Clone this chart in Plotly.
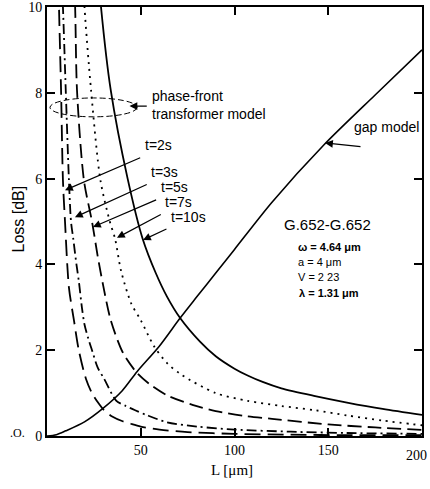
import plotly.graph_objects as go

# Splice loss versus gap length L for G.652-G.652 fibres
# Phase-front transformer model, one curve per taper time t
t2_L = [6.0, 6.4, 7.5, 8.5, 9.6, 11.7, 14.4, 17.0, 20.8, 24.0, 27.7, 30.4, 35.0, 40.0, 45.0, 50.0, 60.0, 75.0, 100.0, 130.0, 160.0, 200.0]
t2_loss = [11.0, 10.0, 8.06, 5.96, 5.0, 3.46, 2.69, 1.99, 1.33, 1.0, 0.75, 0.6, 0.45, 0.35, 0.28, 0.22, 0.15, 0.09, 0.05, 0.03, 0.02, 0.02]

t3_L = [7.5, 8.5, 10.0, 11.7, 12.8, 14.0, 15.7, 17.0, 18.6, 20.0, 22.5, 24.0, 27.0, 30.5, 37.0, 42.0, 47.0, 53.0, 64.0, 80.0, 100.0, 130.0, 160.0, 200.0]
t3_loss = [11.0, 10.0, 8.06, 5.96, 5.0, 4.6, 4.0, 3.6, 3.0, 2.6, 2.2, 2.0, 1.6, 1.33, 0.82, 0.7, 0.6, 0.49, 0.32, 0.22, 0.15, 0.1, 0.07, 0.05]

t5_L = [14.0, 15.0, 16.0, 19.7, 24.0, 27.0, 30.0, 34.0, 40.5, 48.0, 55.0, 64.0, 78.0, 90.0, 105.0, 120.0, 150.0, 175.0, 200.0]
t5_loss = [11.0, 10.0, 8.06, 5.96, 5.0, 4.2, 3.5, 2.7, 1.94, 1.47, 1.2, 0.95, 0.72, 0.58, 0.47, 0.4, 0.27, 0.2, 0.14]

t7_L = [19.0, 20.0, 23.5, 28.5, 33.5, 36.3, 39.5, 45.0, 50.0, 57.0, 64.0, 72.0, 90.0, 107.0, 125.0, 143.0, 160.0, 179.0, 200.0]
t7_loss = [11.0, 10.0, 8.06, 5.96, 5.0, 4.6, 3.85, 3.08, 2.7, 2.1, 1.7, 1.42, 1.0, 0.82, 0.7, 0.6, 0.48, 0.36, 0.25]

t10_L = [27.0, 28.8, 34.0, 43.0, 51.0, 58.0, 64.0, 71.0, 81.6, 90.0, 100.0, 107.0, 115.0, 125.0, 143.0, 160.0, 179.0, 200.0]
t10_loss = [11.0, 10.0, 8.06, 6.0, 4.6, 3.8, 3.25, 2.75, 2.2, 1.86, 1.57, 1.41, 1.26, 1.11, 0.93, 0.78, 0.63, 0.49]

# Gap model
gap_L = [0.0, 5.0, 10.0, 20.0, 30.0, 40.0, 48.0, 60.0, 71.0, 80.0, 90.0, 100.0, 120.0, 148.0, 175.0, 200.0]
gap_loss = [0.0, 0.03, 0.12, 0.33, 0.65, 1.05, 1.5, 2.1, 2.75, 3.25, 3.8, 4.35, 5.45, 6.8, 7.95, 9.0]

x_ticks = [50, 100, 150, 200]
x_tick_text = ["50", "100", "150", ""]   # the last label is drawn separately so it stays inside the page
x_end_label = "200"
y_ticks = [0, 2, 4, 6, 8, 10]

# curve label, arrow tail (x, y), arrow tip (x, y)
t_labels = ["t=2s", "t=3s", "t=5s", "t=7s", "t=10s"]
t_tails = [(50.5, 6.5), (54.0, 5.88), (59.0, 5.52), (61.5, 5.18), (64.5, 4.84)]
t_tips = [(9.6, 5.73), (14.9, 5.1), (24.5, 4.87), (37.3, 4.62), (51.2, 4.57)]

curves = [
    (t2_L, t2_loss, "16px,7px"),
    (t3_L, t3_loss, "10px,4px,2px,4px"),
    (t5_L, t5_loss, "14px,6px"),
    (t7_L, t7_loss, "2px,5px"),
    (t10_L, t10_loss, "solid"),
]

fig = go.Figure()
for (xs, ys, dash), name in zip(curves, t_labels):
    fig.add_trace(go.Scatter(
        x=xs, y=ys, mode="lines", name=name,
        line=dict(color="black", width=1.8, dash=dash, shape="spline", smoothing=0.8),
    ))

fig.add_trace(go.Scatter(
    x=gap_L, y=gap_loss, mode="lines", name="gap model",
    line=dict(color="black", width=1.6, shape="spline", smoothing=0.8),
))

sans = "Liberation Sans, Arial, sans-serif"
serif = "Liberation Serif, Times New Roman, serif"

ann = []
for lab, (tx, ty), (hx, hy) in zip(t_labels, t_tails, t_tips):
    ann.append(dict(x=tx + 0.6, y=ty + 0.04, xref="x", yref="y", text=lab, showarrow=False,
                    xanchor="left", yanchor="bottom", font=dict(family=sans, size=14, color="black")))
    ann.append(dict(x=hx, y=hy, ax=tx, ay=ty, xref="x", yref="y", axref="x", ayref="y",
                    text="", showarrow=True, arrowhead=2, arrowsize=1.3, arrowwidth=1.2,
                    arrowcolor="black"))

# phase-front transformer label with its arrow
ann.append(dict(x=55.0, y=7.72, xref="x", yref="y", text="phase-front<br>transformer model",
                showarrow=False, xanchor="left", yanchor="middle", align="left",
                font=dict(family=sans, size=14, color="black")))
ann.append(dict(x=44.0, y=7.69, ax=54.0, ay=7.69, xref="x", yref="y", axref="x", ayref="y",
                text="", showarrow=True, arrowhead=2, arrowsize=1.3, arrowwidth=1.2,
                arrowcolor="black"))

# gap model label with its arrow
ann.append(dict(x=162.5, y=7.2, xref="x", yref="y", text="gap model", showarrow=False,
                xanchor="left", yanchor="middle", font=dict(family=sans, size=14, color="black")))
ann.append(dict(x=148.3, y=6.83, ax=168.0, ay=6.74, xref="x", yref="y", axref="x", ayref="y",
                text="", showarrow=True, arrowhead=2, arrowsize=1.3, arrowwidth=1.2,
                arrowcolor="black"))

# fibre parameters
ann.append(dict(x=125.5, y=4.92, xref="x", yref="y", text="G.652-G.652", showarrow=False,
                xanchor="left", yanchor="middle", font=dict(family=sans, size=15, color="black")))
params = ["<b>ω = 4.64 μm</b>", "a = 4 μm", "V = 2 23", "<b>λ = 1.31 μm</b>"]
param_y = [4.41, 4.06, 3.71, 3.33]
param_x = [133.0, 133.0, 133.0, 133.5]
for txt, px, py in zip(params, param_x, param_y):
    ann.append(dict(x=px, y=py, xref="x", yref="y", text=txt, showarrow=False,
                    xanchor="left", yanchor="middle", font=dict(family=sans, size=11, color="black")))

# end label of the L axis, right-aligned at the page edge
ann.append(dict(x=1.0175, y=-0.046, xref="paper", yref="paper", text=x_end_label,
                showarrow=False, xanchor="right", yanchor="middle",
                font=dict(family=serif, size=14, color="black")))

# axis titles
ann.append(dict(x=-0.077, y=0.505, xref="paper", yref="paper", text="Loss [dB]", textangle=-90,
                showarrow=False, xanchor="center", yanchor="middle",
                font=dict(family=sans, size=16, color="black")))
ann.append(dict(x=0.493, y=-0.079, xref="paper", yref="paper", text="L [μm]",
                showarrow=False, xanchor="center", yanchor="middle",
                font=dict(family=serif, size=15, color="black")))
ann.append(dict(x=-0.08, y=0.008, xref="paper", yref="paper", text=".O.",
                showarrow=False, xanchor="center", yanchor="middle",
                font=dict(family=serif, size=12, color="black")))

fig.update_layout(
    width=430, height=489,
    margin=dict(l=47, r=8, t=7, b=53, autoexpand=False),
    paper_bgcolor="white", plot_bgcolor="white",
    showlegend=False,
    annotations=ann,
    shapes=[dict(type="circle", xref="x", yref="y", x0=1.6, x1=48.0, y0=7.44, y1=7.88,
                 line=dict(color="black", width=1, dash="6px,3px"))],
)
fig.update_xaxes(
    range=[0, 200], tickvals=x_ticks, ticktext=x_tick_text,
    showline=True, linecolor="black", linewidth=2, mirror="ticks",
    ticks="inside", ticklen=8, tickwidth=1.5, tickcolor="black",
    showgrid=False, zeroline=False, automargin=False,
    tickfont=dict(family=serif, size=14, color="black"),
)
fig.update_yaxes(
    range=[0, 10], tickvals=y_ticks, ticktext=[str(v) for v in y_ticks],
    showline=True, linecolor="black", linewidth=2, mirror="ticks",
    ticks="inside", ticklen=8, tickwidth=1.5, tickcolor="black",
    showgrid=False, zeroline=False, automargin=False, ticklabeloverflow="allow",
    tickfont=dict(family=serif, size=14, color="black"),
)

fig.write_html("out.html")
